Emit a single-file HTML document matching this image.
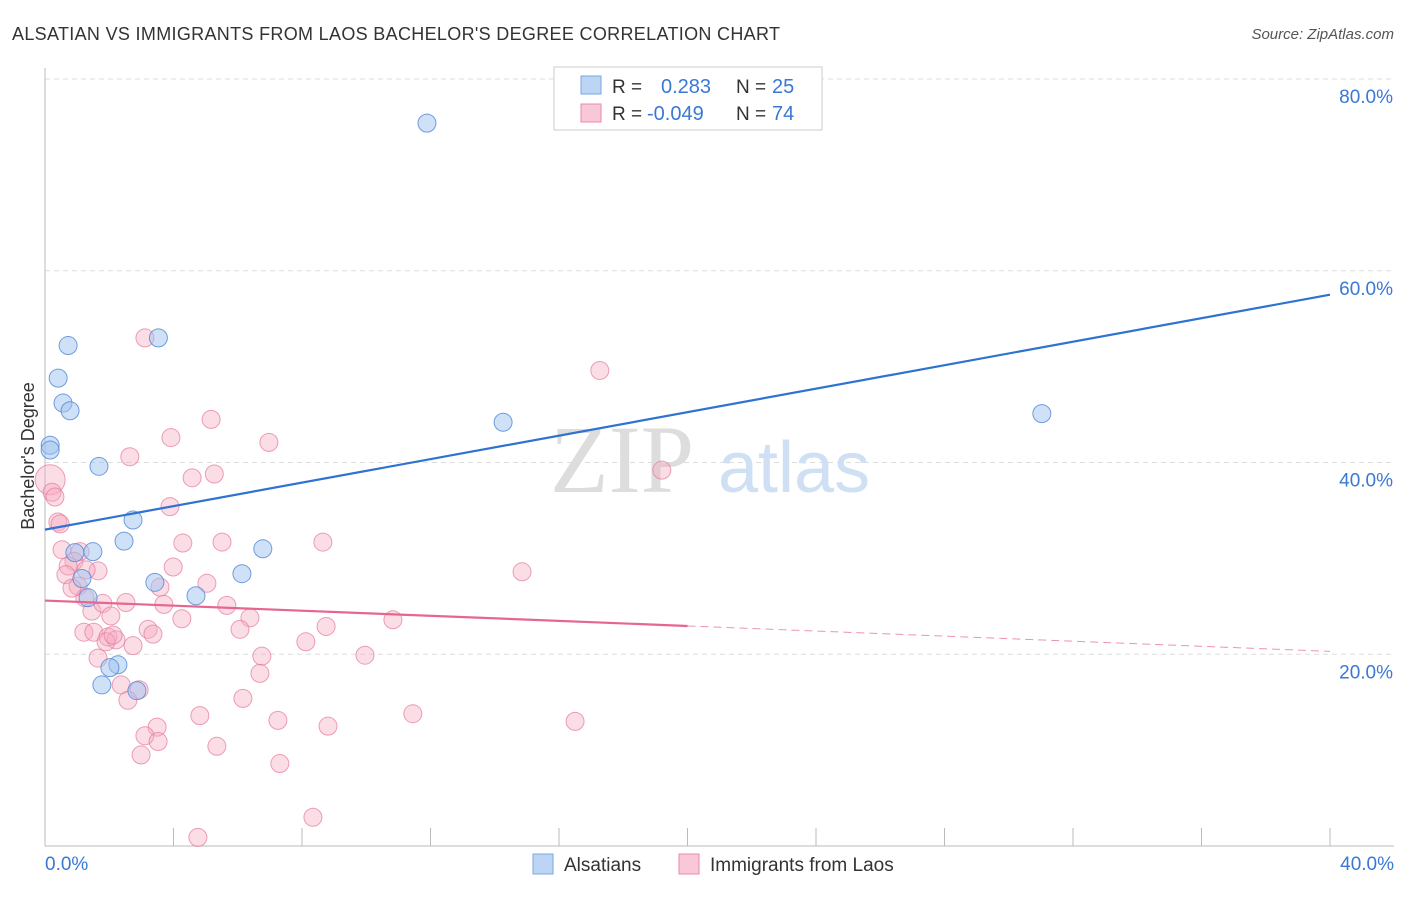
<!DOCTYPE html>
<html><head><meta charset="utf-8"><style>
body{margin:0;background:#fff;font-family:"Liberation Sans",sans-serif}
</style></head><body>
<svg width="1406" height="892" xmlns="http://www.w3.org/2000/svg" style="font-family:'Liberation Sans',sans-serif">
<text x="12" y="40" font-size="18" fill="#333" textLength="768">ALSATIAN VS IMMIGRANTS FROM LAOS BACHELOR'S DEGREE CORRELATION CHART</text>
<text x="1394" y="39" font-size="15" fill="#555" font-style="italic" text-anchor="end">Source: ZipAtlas.com</text>
<g id="grid"></g>
<g id="axes"></g>
<text x="550" y="492" font-size="96" fill="#ddd" font-family="Liberation Serif">ZIP</text>
<text x="718" y="492" font-size="72" fill="#cfe0f5">atlas</text>
<text transform="translate(34,456) rotate(-90)" font-size="18" fill="#333" text-anchor="middle">Bachelor's Degree</text>
<g id="pts"></g>
<g id="lines"></g>
<g>
<rect x="554" y="67" width="268" height="63" fill="#fff" stroke="#ccc"/>
<rect x="581" y="76" width="20" height="18" fill="#bcd5f5" stroke="#7aa6e0"/>
<rect x="581" y="104" width="20" height="18" fill="#f9c8d6" stroke="#e98aa8"/>
<text x="612" y="93" font-size="19" fill="#333">R =</text><text x="661" y="93" font-size="20" fill="#3a78d4">0.283</text>
<text x="736" y="93" font-size="19" fill="#333">N =</text><text x="772" y="93" font-size="20" fill="#3a78d4">25</text>
<text x="612" y="120" font-size="19" fill="#333">R =</text><text x="647" y="120" font-size="20" fill="#3a78d4">-0.049</text>
<text x="736" y="120" font-size="19" fill="#333">N =</text><text x="772" y="120" font-size="20" fill="#3a78d4">74</text>
</g>
<g>
<rect x="533" y="854" width="20" height="20" fill="#bcd5f5" stroke="#7aa6e0"/>
<text x="564" y="871" font-size="19" fill="#333">Alsatians</text>
<rect x="679" y="854" width="20" height="20" fill="#f9c8d6" stroke="#e98aa8"/>
<text x="710" y="871" font-size="19" fill="#333">Immigrants from Laos</text>
</g>
</svg>
<script>
const yTicks=[20,40,60,80];
const yTickLabels=["20.0%","40.0%","60.0%","80.0%"];
const blueX=[11.89,0.72,3.53,0.41,0.56,0.78,0.16,0.16,1.68,14.26,31.03,2.74,2.46,1.49,0.93,6.78,1.15,3.42,6.13,1.34,4.7,2.27,2.02,1.77,2.86];
const blueY=[75.4,52.2,53.0,48.8,46.2,45.4,41.8,41.3,39.6,44.2,45.1,34.0,31.8,30.7,30.6,31.0,27.9,27.5,28.4,25.9,26.1,18.9,18.6,16.8,16.2];
const pinkX=[3.11,17.27,5.17,3.92,6.97,2.64,5.27,4.58,19.2,0.16,0.22,0.31,0.4,0.47,3.89,0.53,1.09,0.9,0.72,3.99,4.29,5.51,8.65,0.65,1.65,1.28,1.03,5.04,3.58,14.85,1.46,1.8,2.52,3.7,5.66,4.26,6.38,10.83,1.21,1.52,3.21,3.36,6.07,8.75,1.96,2.21,1.9,2.74,8.12,9.96,1.65,6.75,6.69,2.37,2.93,6.16,2.58,4.82,7.25,8.81,11.45,16.5,3.49,3.11,3.52,5.35,2.99,7.31,4.76,8.34,2.05,1.24,2.12,0.84];
const pinkY=[53.0,49.6,44.5,42.6,42.1,40.6,38.8,38.4,39.2,38.2,36.9,36.4,33.8,33.6,35.4,30.9,30.7,29.7,29.2,29.1,31.6,31.7,31.7,28.3,28.7,28.8,27.1,27.4,27.0,28.6,24.5,25.3,25.4,25.2,25.1,23.7,23.8,23.6,22.3,22.3,22.6,22.1,22.6,22.9,21.8,21.5,21.3,20.9,21.3,19.9,19.6,19.8,18.0,16.8,16.3,15.4,15.2,13.6,13.1,12.5,13.8,13.0,12.4,11.5,10.9,10.4,9.5,8.6,0.9,3.0,24.0,25.9,22.0,26.9];
const blueLine=[33.0,57.5];
const pinkLine=[25.6,20.3];
const x=v=>45+v/40*1285, y=v=>846-v*9.5875;
const NS='http://www.w3.org/2000/svg';
function mk(t,a,p){const e=document.createElementNS(NS,t);for(const k in a)e.setAttribute(k,a[k]);p.appendChild(e);return e;}
const grid=document.getElementById('grid'),axes=document.getElementById('axes');
yTicks.forEach((t,i)=>{
 const l=mk('line',{x1:45,x2:1394,y1:y(t),y2:y(t),stroke:'#ddd','stroke-dasharray':'5,4'},grid);
 
 
 const tx=mk('text',{x:1393,y:y(t)+24,'font-size':19,fill:'#3a78d4','text-anchor':'end'},axes);
 tx.textContent=yTickLabels[i];
 
 
});
mk('line',{x1:45,x2:45,y1:68,y2:846,stroke:'#bbb'},axes);
mk('line',{x1:45,x2:1394,y1:846,y2:846,stroke:'#bbb'},axes);
for(let i=0;i<=10;i++){const t=mk('line',{x1:x(i*4),x2:x(i*4),y1:828,y2:846,stroke:'#bbb'},axes);
 
 }
const x0=mk('text',{x:45,y:870,'font-size':19,fill:'#3a78d4'},axes);x0.textContent='0.0%';


const x1=mk('text',{x:1394,y:870,'font-size':19,fill:'#3a78d4','text-anchor':'end'},axes);x1.textContent='40.0%';


const pts=document.getElementById('pts');
pinkX.forEach((v,i)=>{const c=mk('circle',{cx:x(v),cy:y(pinkY[i]),r:i==9?15:9,fill:'rgba(244,170,192,0.4)',stroke:'rgba(230,120,155,0.7)','stroke-width':1},pts);
 
 });
blueX.forEach((v,i)=>{const c=mk('circle',{cx:x(v),cy:y(blueY[i]),r:9,fill:'rgba(160,195,240,0.5)',stroke:'rgba(80,135,215,0.8)','stroke-width':1},pts);
 
 });
const L=document.getElementById('lines');
const bl=mk('line',{x1:x(0),y1:y(blueLine[0]),x2:x(40),y2:y(blueLine[1]),stroke:'#2e72d2','stroke-width':2.2},L);


const pm=v=>pinkLine[0]+(pinkLine[1]-pinkLine[0])*v/40;
const pl=mk('line',{x1:x(0),y1:y(pm(0)),x2:x(20),y2:y(pm(20)),stroke:'#e5668f','stroke-width':2.2},L);


const pd=mk('line',{x1:x(20),y1:y(pm(20)),x2:x(40),y2:y(pm(40)),stroke:'#e5668f','stroke-width':1,'stroke-dasharray':'8,5','opacity':0.7},L);


</script>
</body></html>
